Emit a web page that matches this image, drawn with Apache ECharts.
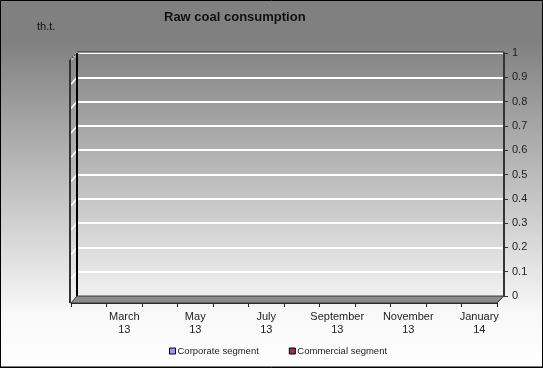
<!DOCTYPE html>
<html>
<head>
<meta charset="utf-8">
<script src="https://cdn.jsdelivr.net/npm/echarts@6/dist/echarts.min.js"></script>
<style>
html,body{margin:0;padding:0;background:#fff;}
#c{width:543px;height:368px;}
</style>
</head>
<body>
<div id="c"></div>
<script>
var titleText = 'Raw coal consumption';
var unitText = 'th.t.';
var months = ['February\n13','March\n13','April\n13','May\n13','June\n13','July\n13','August\n13','September\n13','October\n13','November\n13','December\n13','January\n14'];
var seriesNames = ['Corporate segment','Commercial segment'];
var corporate = [0,0,0,0,0,0,0,0,0,0,0,0];
var commercial = [0,0,0,0,0,0,0,0,0,0,0,0];
var yMin = 0, yMax = 1, yStep = 0.1;

var FONT = 'Liberation Sans, Arial, sans-serif';
var chart = echarts.init(document.getElementById('c'), null, {renderer:'canvas'});

var option = {
  animation:false,
  backgroundColor: new echarts.graphic.LinearGradient(0,0,0,1,[
    {offset:0,color:'#808080'},
    {offset:0.11,color:'#808080'},
    {offset:0.85,color:'#f8f8f8'},
    {offset:1,color:'#ffffff'}
  ]),
  title:{
    text:titleText, left:164, top:11, padding:0,
    textStyle:{fontFamily:FONT,fontSize:13,fontWeight:'bold',color:'#111'}
  },
  legend:{
    left:169, top:346, padding:0, itemWidth:6, itemHeight:6, itemGap:30,
    icon:'rect',
    itemStyle:{borderColor:'#000',borderWidth:1},
    textStyle:{fontFamily:FONT,fontSize:9.5,color:'#222',padding:[0,0,0,-3]},
    data:seriesNames
  },
  grid:[
    {left:77,right:39,top:53,bottom:72},
    {left:71,right:46,top:60,bottom:65}
  ],
  xAxis:[
    {type:'category',gridIndex:0,data:months,show:false},
    {type:'category',gridIndex:1,data:months,
     axisLine:{show:true,lineStyle:{color:'#222',width:1}},
     axisTick:{show:true,interval:0,length:4,lineStyle:{color:'#222'}},
     axisLabel:{interval:function(i){return i%2===1;},fontFamily:FONT,fontSize:11,color:'#222',lineHeight:13,margin:7},
     splitLine:{show:false}}
  ],
  yAxis:[
    {type:'value',gridIndex:0,position:'right',min:yMin,max:yMax,interval:yStep,
     axisLine:{show:true,lineStyle:{color:'#333',width:2}},
     axisTick:{show:true,length:4,lineStyle:{color:'#333'}},
     axisLabel:{fontFamily:FONT,fontSize:11,color:'#222',margin:8},
     splitLine:{show:true,lineStyle:{color:'#ffffff',width:2}}},
    {type:'value',gridIndex:1,min:yMin,max:yMax,show:false}
  ],
  series:[
    {name:seriesNames[0],type:'bar',xAxisIndex:0,yAxisIndex:0,data:corporate,
     itemStyle:{color:'#9999ff',borderWidth:0}},
    {name:seriesNames[1],type:'bar',xAxisIndex:0,yAxisIndex:0,data:commercial,
     itemStyle:{color:'#993366',borderWidth:0}}
  ]
};
chart.setOption(option);

// 3D decorations computed from axes
var g0 = chart.getModel().getComponent('grid',0).coordinateSystem.getRect();
var g1 = chart.getModel().getComponent('grid',1).coordinateSystem.getRect();
var dx = g0.x - g1.x, dy = (g1.y + g1.height) - (g0.y + g0.height);
var backBottom = g0.y + g0.height, frontBottom = g1.y + g1.height;
var graphics = [];
// floor
graphics.push({type:'polygon',z:5,shape:{points:[[g1.x,frontBottom],[g1.x+g1.width,frontBottom],[g0.x+g0.width,backBottom],[g0.x,backBottom]]},
  style:{fill:'#8c8c8c',stroke:'#333',lineWidth:1}});
// slants for grid lines on the left wall
for (var v = yMin + yStep; v <= yMax + 1e-9; v += yStep) {
  var py = chart.convertToPixel({yAxisIndex:0}, v);
  graphics.push({type:'line',z:5,shape:{x1:g0.x-dx,y1:py+dy,x2:g0.x,y2:py},style:{stroke:'#ffffff',lineWidth:1.5}});
}
// left wall edges
graphics.push({type:'line',z:6,shape:{x1:g0.x,y1:g0.y,x2:g0.x,y2:backBottom},style:{stroke:'#000',lineWidth:2}});
graphics.push({type:'line',z:6,shape:{x1:g1.x-1,y1:g0.y+dy,x2:g1.x-1,y2:frontBottom},style:{stroke:'#333',lineWidth:2}});
graphics.push({type:'line',z:6,shape:{x1:g1.x-1,y1:g0.y+dy,x2:g0.x,y2:g0.y},style:{stroke:'#444',lineWidth:1.5,lineDash:[2,1]}});
graphics.push({type:'line',z:6,shape:{x1:g0.x,y1:g0.y-1,x2:g0.x+g0.width,y2:g0.y-1},style:{stroke:'#222',lineWidth:1}});
// unit text
graphics.push({type:'text',z:6,left:37,top:21,style:{text:unitText,font:'11px '+FONT,fill:'#111'}});
// border
graphics.push({type:'rect',z:10,shape:{x:0.5,y:0.5,width:542,height:366.5},style:{fill:'none',stroke:'#000',lineWidth:1}});
graphics.push({type:'line',z:10,shape:{x1:0,y1:367.5,x2:543,y2:367.5},style:{stroke:'#000',lineWidth:1}});
chart.setOption({graphic:graphics});
</script>
</body>
</html>
